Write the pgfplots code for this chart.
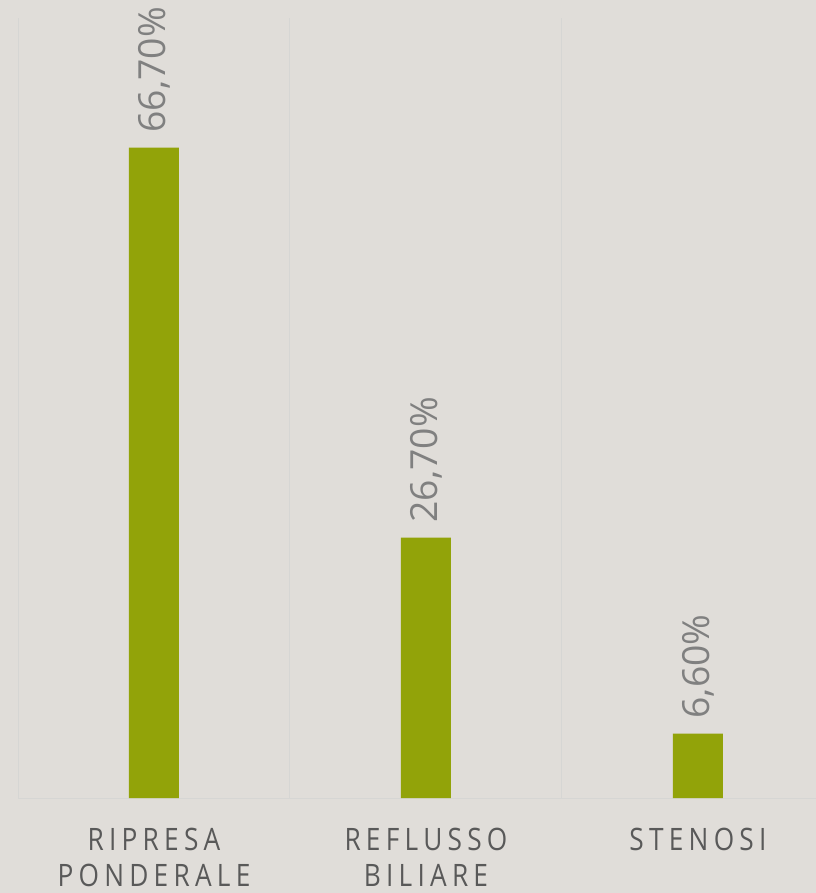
\documentclass[border=0pt]{standalone}
\usepackage{pgfplots}
\pgfplotsset{compat=1.18}
\usepackage{fontspec}
\setmainfont{Open Sans}
\newfontfamily\labfont[FakeStretch=0.85,LetterSpace=17]{Open Sans}
\definecolor{bg}{HTML}{E0DDD9}
\definecolor{barc}{HTML}{92A309}
\definecolor{gridc}{HTML}{D6D6D4}
\definecolor{valc}{HTML}{808080}
\definecolor{tickc}{HTML}{595959}
\begin{document}
\begin{tikzpicture}
\path[use as bounding box] (0,0) rectangle (816bp,893bp);
\fill[bg] (0,0) rectangle (816bp,893bp);
\begin{axis}[
  at={(18bp,95bp)}, anchor=south west,
  scale only axis, width=798bp, height=780bp,
  xmin=-0.5, xmax=2.434, ymin=0, ymax=80,
  clip=false,
  hide y axis,
  axis x line*=bottom,
  x axis line style={draw=gridc, line width=1bp},
  xtick={0,1,2},
  xticklabels={{RIPRESA\\PONDERALE},{REFLUSSO\\BILIARE},{STENOSI}},
  major tick length=0pt,
  minor xtick={-0.5,0.5,1.5},
  minor tick length=0pt,
  xminorgrids,
  minor x grid style={draw=gridc, line width=1bp},
  xticklabel style={font=\labfont\fontsize{31}{36.5}\selectfont, text=tickc, align=center, inner sep=0pt, yshift=-30bp},
  /pgf/number format/assume math mode=true,
  nodes near coords={\pgfmathprintnumber[fixed, fixed zerofill, precision=2, use comma]{\pgfplotspointmeta}\%},
  every node near coord/.append style={rotate=90, anchor=west, font=\fontsize{37.5}{37.5}\selectfont, text=valc, inner xsep=15bp, inner ysep=0pt},
]
\addplot[ybar, fill=barc, draw=none, bar width=50bp] coordinates {(0,66.7) (1,26.7) (2,6.6)};
\end{axis}
\end{tikzpicture}
\end{document}
